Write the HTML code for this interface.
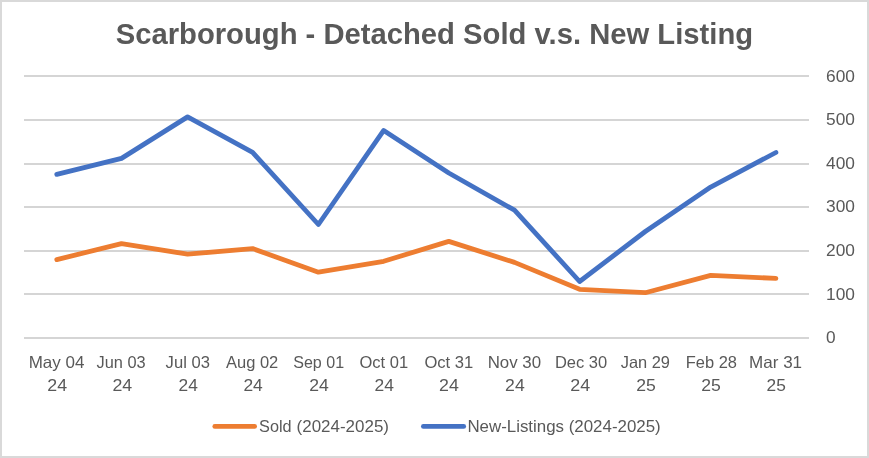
<!DOCTYPE html>
<html lang="en"><head><meta charset="utf-8"><title>Scarborough - Detached Sold v.s. New Listing</title>
<style>html,body{margin:0;padding:0;background:#fff;overflow:hidden}svg{display:block;will-change:transform}text{font-family:"Liberation Sans",sans-serif;fill:#595959}</style></head><body>
<svg width="869" height="458" viewBox="0 0 869 458">
<rect x="0" y="0" width="869" height="458" fill="#fff"/>
<rect x="1" y="1" width="867" height="456" fill="none" stroke="#D9D9D9" stroke-width="2"/>
<rect x="24" y="75" width="785" height="2" fill="#D5D5D5"/>
<rect x="24" y="119" width="785" height="2" fill="#D5D5D5"/>
<rect x="24" y="163" width="785" height="2" fill="#D5D5D5"/>
<rect x="24" y="206" width="785" height="2" fill="#D5D5D5"/>
<rect x="24" y="250" width="785" height="2" fill="#D5D5D5"/>
<rect x="24" y="293" width="785" height="2" fill="#D5D5D5"/>
<rect x="24" y="337" width="785" height="2" fill="#D5D5D5"/>
<polyline points="56.8,259.6 121.5,243.6 187.6,254.2 252.6,248.6 318.4,272.2 383.7,261.3 448.8,241.4 514.5,262.4 579.6,289.3 645.3,292.7 710.7,275.4 775.9,278.4" fill="none" stroke="#ED7D31" stroke-width="4.8" stroke-linecap="round" stroke-linejoin="round"/>
<polyline points="56.8,174.4 121.5,158.4 187.6,116.9 252.6,152.4 318.4,224.5 383.7,130.4 448.8,173.0 514.5,210.2 579.6,281.5 645.3,231.5 710.7,187.1 775.9,152.5" fill="none" stroke="#4472C4" stroke-width="4.8" stroke-linecap="round" stroke-linejoin="round"/>
<text x="115.7" y="43.7" font-size="29.2" font-weight="bold" textLength="637.4" lengthAdjust="spacingAndGlyphs">Scarborough - Detached Sold v.s. New Listing</text>
<text x="826.1" y="81.65" font-size="16.2" textLength="28.9" lengthAdjust="spacingAndGlyphs">600</text>
<text x="826.1" y="125.25" font-size="16.2" textLength="28.9" lengthAdjust="spacingAndGlyphs">500</text>
<text x="826.1" y="168.85" font-size="16.2" textLength="28.9" lengthAdjust="spacingAndGlyphs">400</text>
<text x="826.1" y="212.45" font-size="16.2" textLength="28.9" lengthAdjust="spacingAndGlyphs">300</text>
<text x="826.1" y="256.05" font-size="16.2" textLength="28.9" lengthAdjust="spacingAndGlyphs">200</text>
<text x="826.1" y="299.65" font-size="16.2" textLength="28.9" lengthAdjust="spacingAndGlyphs">100</text>
<text x="826.1" y="343.25" font-size="16.2" textLength="9.6" lengthAdjust="spacingAndGlyphs">0</text>
<text x="28.7" y="368" font-size="16.5" textLength="55.8" lengthAdjust="spacingAndGlyphs">May 04</text>
<text x="47.3" y="391" font-size="16.5" textLength="19.8" lengthAdjust="spacingAndGlyphs">24</text>
<text x="96.6" y="368" font-size="16.5" textLength="49.1" lengthAdjust="spacingAndGlyphs">Jun 03</text>
<text x="112.4" y="391" font-size="16.5" textLength="19.8" lengthAdjust="spacingAndGlyphs">24</text>
<text x="165.6" y="368" font-size="16.5" textLength="44.3" lengthAdjust="spacingAndGlyphs">Jul 03</text>
<text x="178.5" y="391" font-size="16.5" textLength="19.3" lengthAdjust="spacingAndGlyphs">24</text>
<text x="226.0" y="368" font-size="16.5" textLength="52.3" lengthAdjust="spacingAndGlyphs">Aug 02</text>
<text x="243.4" y="391" font-size="16.5" textLength="19.4" lengthAdjust="spacingAndGlyphs">24</text>
<text x="293.2" y="368" font-size="16.5" textLength="50.9" lengthAdjust="spacingAndGlyphs">Sep 01</text>
<text x="309.2" y="391" font-size="16.5" textLength="19.6" lengthAdjust="spacingAndGlyphs">24</text>
<text x="359.5" y="368" font-size="16.5" textLength="48.6" lengthAdjust="spacingAndGlyphs">Oct 01</text>
<text x="374.6" y="391" font-size="16.5" textLength="19.4" lengthAdjust="spacingAndGlyphs">24</text>
<text x="424.4" y="368" font-size="16.5" textLength="48.8" lengthAdjust="spacingAndGlyphs">Oct 31</text>
<text x="439.1" y="391" font-size="16.5" textLength="19.8" lengthAdjust="spacingAndGlyphs">24</text>
<text x="487.7" y="368" font-size="16.5" textLength="53.4" lengthAdjust="spacingAndGlyphs">Nov 30</text>
<text x="505.1" y="391" font-size="16.5" textLength="19.6" lengthAdjust="spacingAndGlyphs">24</text>
<text x="554.9" y="368" font-size="16.5" textLength="52.3" lengthAdjust="spacingAndGlyphs">Dec 30</text>
<text x="570.2" y="391" font-size="16.5" textLength="19.9" lengthAdjust="spacingAndGlyphs">24</text>
<text x="620.7" y="368" font-size="16.5" textLength="49.3" lengthAdjust="spacingAndGlyphs">Jan 29</text>
<text x="636.3" y="391" font-size="16.5" textLength="19.6" lengthAdjust="spacingAndGlyphs">25</text>
<text x="685.8" y="368" font-size="16.5" textLength="51.2" lengthAdjust="spacingAndGlyphs">Feb 28</text>
<text x="701.2" y="391" font-size="16.5" textLength="19.6" lengthAdjust="spacingAndGlyphs">25</text>
<text x="749.1" y="368" font-size="16.5" textLength="53.0" lengthAdjust="spacingAndGlyphs">Mar 31</text>
<text x="766.6" y="391" font-size="16.5" textLength="19.3" lengthAdjust="spacingAndGlyphs">25</text>
<line x1="214.8" y1="426.45" x2="254.6" y2="426.45" stroke="#ED7D31" stroke-width="4.8" stroke-linecap="round"/>
<text y="432" font-size="16.5"><tspan x="259.1" textLength="32.5" lengthAdjust="spacingAndGlyphs">Sold</tspan> <tspan x="296.6" textLength="92.4" lengthAdjust="spacingAndGlyphs">(2024-2025)</tspan></text>
<line x1="423.4" y1="426.45" x2="463.7" y2="426.45" stroke="#4472C4" stroke-width="4.8" stroke-linecap="round"/>
<text x="467.4" y="432" font-size="16.5" textLength="193.3" lengthAdjust="spacingAndGlyphs">New-Listings (2024-2025)</text>
</svg></body></html>
